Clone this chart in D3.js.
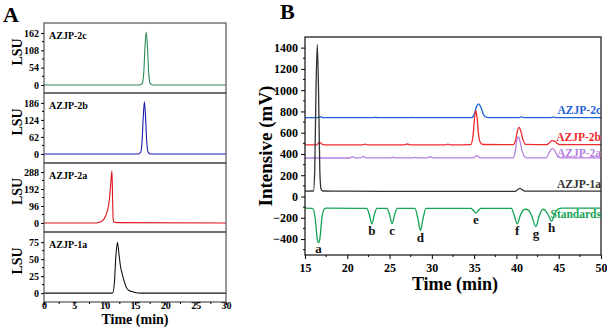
<!DOCTYPE html>
<html><head><meta charset="utf-8">
<script src="https://cdn.jsdelivr.net/npm/d3@7"></script>
<style>
body{margin:0;background:#fff}
svg{display:block;font-family:"Liberation Serif","Times New Roman",serif;font-weight:bold}
</style>
</head><body>
<svg id="c" width="607" height="327"></svg>
<script>
// ---------- Panel A data ----------
const aNames = ["AZJP-2c", "AZJP-2b", "AZJP-2a", "AZJP-1a"];
const aTimeTicks = [0, 5, 10, 15, 20, 25, 30];
const aTicks2c = [0, 54, 108, 162];
const aTicks2b = [0, 62, 124, 186];
const aTicks2a = [0, 96, 192, 288];
const aTicks1a = [0, 25, 50, 75];
const a2c = [[0,0],[15.8,0],[16.2,5],[16.45,40],[16.65,120],[16.85,165],[17.05,120],[17.25,40],[17.5,5],[17.9,0],[30,0]];
const a2b = [[0,0],[15.5,0],[15.9,5],[16.15,40],[16.35,130],[16.55,190],[16.75,130],[16.95,40],[17.2,5],[17.6,0],[30,0]];
const a2a = [[0,0],[8.5,0],[9.2,5],[9.7,15],[10.1,35],[10.5,75],[10.8,140],[11.0,220],[11.2,295],[11.3,150],[11.4,20],[11.5,5],[12,2],[30,0]];
const a1a = [[0,0],[11.3,0],[11.6,15],[11.85,55],[12.1,75],[12.35,58],[12.6,40],[12.9,28],[13.2,18],[13.6,8],[14,4],[14.5,2.5],[15,1],[16,0],[30,0]];

// ---------- Panel B data ----------
const bTimeTicks = [15, 20, 25, 30, 35, 40, 45, 50];
const bIntensityTicks = [-400, -200, 0, 200, 400, 600, 800, 1000, 1200, 1400];
const bNames = ["AZJP-2c", "AZJP-2b", "AZJP-2a", "AZJP-1a", "Standards"];
const b2c = [[15,741],[16.5,741],[16.8,752],[17.1,741],[23,741],[23.3,745],[23.6,741],[27.3,741],[27.6,744],[27.9,741],[34.7,741],[35.0,770],[35.3,850],[35.5,872],[35.8,840],[36.1,770],[36.5,744],[37,741],[40.3,741],[40.6,749],[40.9,741],[44,741],[44.4,746],[44.8,741],[50,741]];
const b2b = [[15,485],[16.4,486],[16.7,512],[17.0,492],[17.4,486],[21.8,486],[22.1,492],[22.4,486],[26.8,486],[27.1,494],[27.4,486],[31.6,486],[31.9,492],[32.2,486],[34.6,488],[34.85,560],[35.05,740],[35.2,810],[35.35,740],[35.5,600],[35.7,512],[36.0,489],[39.6,487],[39.9,530],[40.1,610],[40.3,650],[40.5,620],[40.75,540],[41.1,490],[43.6,487],[43.9,505],[44.2,525],[44.5,520],[44.8,500],[45.2,487],[50,487]];
const b2a = [[15,362],[20.3,362],[20.6,375],[20.9,363],[21.6,363],[21.9,378],[22.2,363],[25.1,363],[25.4,369],[25.7,363],[27.7,363],[28.0,368],[28.3,363],[29.5,363],[29.8,374],[30.1,363],[34.9,363],[35.3,385],[35.7,363],[39.6,363],[39.85,420],[40.05,530],[40.25,560],[40.45,510],[40.7,420],[41.0,372],[41.3,363],[43.5,363],[43.8,400],[44.1,445],[44.3,450],[44.6,420],[44.9,375],[45.3,363],[50,363]];
const b1a = [[15,50],[16.0,52],[16.15,250],[16.3,1000],[16.45,1430],[16.6,1000],[16.75,250],[16.9,70],[17.1,52],[20,50],[30,48],[39.8,48],[40.4,76],[41,50],[50,50]];
const bStd = [[15,-110],[15.9,-112],[16.2,-200],[16.45,-400],[16.6,-432],[16.75,-400],[17.0,-200],[17.3,-115],[17.5,-110],
  [22.3,-112],[22.6,-170],[22.9,-258],[23.2,-170],[23.5,-112],
  [24.7,-112],[25.0,-170],[25.3,-255],[25.6,-170],[25.9,-112],
  [28.0,-112],[28.35,-210],[28.65,-320],[28.95,-210],[29.3,-112],
  [34.6,-112],[34.9,-130],[35.2,-155],[35.5,-130],[35.8,-112],
  [39.4,-112],[39.75,-180],[40.1,-258],[40.45,-180],[40.8,-128],[41.1,-120],
  [41.4,-128],[41.8,-180],[42.3,-282],[42.7,-180],[43.0,-128],[43.2,-120],
  [43.5,-140],[43.8,-180],[44.15,-232],[44.55,-160],[44.9,-118],[45.4,-110],[50,-110]];
const stdLabels = ["a", "b", "c", "d", "e", "f", "g", "h"];
const stdTimes = [16.6, 22.9, 25.3, 28.65, 35.2, 40.1, 42.3, 44.15];
const stdDepths = [-432, -258, -255, -320, -155, -258, -282, -232];

// ---------- drawing ----------
const svg = d3.select("#c");

// Panel A
const aData = [a2c, a2b, a2a, a1a];
const aTicks = [aTicks2c, aTicks2b, aTicks2a, aTicks1a];
const aColors = ["#2e8b57", "#1a1ab4", "#e0141e", "#111111"];
const aDomains = [[-25, 193], [-33, 222], [-51, 339], [-13, 90]];
const aLeft = 44, aRight = 226, aTops = [23, 93, 163, 232], aBottom = 302;
const ax = d3.scaleLinear([0, 30], [aLeft, aRight]);

aData.forEach((data, i) => {
  const top = aTops[i], bottom = i < 3 ? aTops[i + 1] : aBottom;
  const y = d3.scaleLinear(aDomains[i], [bottom, top]);
  const g = svg.append("g");
  const cid = "clipA" + i;
  svg.append("clipPath").attr("id", cid).append("rect")
    .attr("x", aLeft).attr("y", top).attr("width", aRight - aLeft).attr("height", bottom - top);
  g.append("path").datum(data)
    .attr("clip-path", `url(#${cid})`)
    .attr("fill", "none").attr("stroke", aColors[i]).attr("stroke-width", 1.1)
    .attr("d", d3.line().x(d => ax(d[0])).y(d => y(d[1])).curve(d3.curveMonotoneX));
  g.append("rect").attr("x", aLeft).attr("y", top).attr("width", aRight - aLeft).attr("height", bottom - top)
    .attr("fill", "none").attr("stroke", "#555").attr("stroke-width", 1.2);
  // y axis
  const t = aTicks[i];
  const step = t[1] - t[0];
  const minor = t.map(v => v + step / 2).filter(v => y(v) > top + 2);
  const yAx = g.append("g").attr("transform", `translate(${aLeft},0)`)
    .call(d3.axisLeft(y).tickValues(t).tickSize(3).tickPadding(2).tickFormat(d3.format("d")));
  yAx.select(".domain").remove();
  yAx.selectAll("text").attr("font-size", 10).attr("font-weight", "bold").attr("font-family", "Liberation Serif");
  g.selectAll(".mt").data(minor).enter().append("line")
    .attr("x1", aLeft - 2).attr("x2", aLeft).attr("y1", d => y(d)).attr("y2", d => y(d)).attr("stroke", "#000");
  g.append("text").attr("x", 49).attr("y", top + 16).attr("font-size", 10).text(aNames[i]);
  g.append("text").attr("transform", `translate(17,${(top + bottom) / 2 - 6}) rotate(-90)`)
    .attr("text-anchor", "middle").attr("dominant-baseline", "central").attr("font-size", 14).text("LSU");
});
// x axis panel A
const axG = svg.append("g").attr("transform", `translate(0,${aBottom})`)
  .call(d3.axisBottom(ax).tickValues(aTimeTicks).tickSize(3).tickPadding(-3));
axG.select(".domain").remove();
axG.selectAll("text").attr("font-size", 10).attr("font-weight", "bold").attr("font-family", "Liberation Serif");
svg.selectAll(".amx").data(aTimeTicks.slice(0, -1).map(v => v + 2.5)).enter().append("line")
  .attr("x1", d => ax(d)).attr("x2", d => ax(d)).attr("y1", aBottom).attr("y2", aBottom + 2).attr("stroke", "#000");
svg.append("text").attr("x", 135).attr("y", 323.5).attr("text-anchor", "middle").attr("font-size", 14).text("Time (min)");
svg.append("text").attr("x", 3).attr("y", 22).attr("font-size", 22).text("A");

// Panel B
const bL = 305, bR = 601, bT = 37, bB = 255;
const bx = d3.scaleLinear([15, 50], [bL, bR]);
const by = d3.scaleLinear([-550, 1500], [bB, bT]);
const bData = [b2c, b2b, b2a, b1a, bStd];
const bColors = ["#1f63d6", "#ee2a2f", "#b57fe0", "#333333", "#14a355"];
svg.append("clipPath").attr("id", "clipB").append("rect")
  .attr("x", bL).attr("y", bT).attr("width", bR - bL).attr("height", bB - bT);
const bLine = d3.line().x(d => bx(d[0])).y(d => by(d[1])).curve(d3.curveMonotoneX);
bData.forEach((data, i) => {
  svg.append("path").datum(data).attr("clip-path", "url(#clipB)")
    .attr("fill", "none").attr("stroke", bColors[i]).attr("stroke-width", 1.3).attr("d", bLine);
});
// frame
svg.append("rect").attr("x", bL).attr("y", bT).attr("width", bR - bL).attr("height", bB - bT)
  .attr("fill", "none").attr("stroke", "#222").attr("stroke-width", 1.3);
const byAx = svg.append("g").attr("transform", `translate(${bL},0)`)
  .call(d3.axisLeft(by).tickValues(bIntensityTicks).tickSize(4).tickPadding(3).tickFormat(d3.format("d")));
byAx.select(".domain").remove();
byAx.selectAll("text").attr("font-size", 12).attr("font-weight", "bold").attr("font-family", "Liberation Serif");
svg.selectAll(".bmy").data(bIntensityTicks.map(v => v - 100).concat([1500]).filter(v => v > -550 && v < 1500)).enter().append("line")
  .attr("x1", bL - 2).attr("x2", bL).attr("y1", d => by(d)).attr("y2", d => by(d)).attr("stroke", "#000");
const bxAx = svg.append("g").attr("transform", `translate(0,${bB})`)
  .call(d3.axisBottom(bx).tickValues(bTimeTicks).tickSize(4).tickPadding(4));
bxAx.select(".domain").remove();
bxAx.selectAll("text").attr("font-size", 12).attr("font-weight", "bold").attr("font-family", "Liberation Serif");
svg.selectAll(".bmx").data(bTimeTicks.slice(0, -1).map(v => v + 2.5)).enter().append("line")
  .attr("x1", d => bx(d)).attr("x2", d => bx(d)).attr("y1", bB).attr("y2", bB + 2).attr("stroke", "#000");

// series labels
const bLabelBase = [741, 485, 362, 50, -110];
const bLabelOffsetPx = [-4, -4, -1, -3, 10];
bNames.forEach((n, i) => {
  svg.append("text").attr("x", bR).attr("y", by(bLabelBase[i]) + bLabelOffsetPx[i])
    .attr("text-anchor", "end").attr("font-size", 11.5).attr("fill", bColors[i]).text(n);
});
// standards letters
stdLabels.forEach((l, i) => {
  svg.append("text").attr("x", bx(stdTimes[i])).attr("y", by(stdDepths[i]) + 11)
    .attr("text-anchor", "middle").attr("font-size", 13).attr("fill", "#111").text(l);
});
svg.append("text").attr("transform", `translate(265,146) rotate(-90)`)
  .attr("text-anchor", "middle").attr("dominant-baseline", "central").attr("font-size", 19).text("Intensive (mV)");
svg.append("text").attr("x", 455).attr("y", 290).attr("text-anchor", "middle").attr("font-size", 18).text("Time (min)");
svg.append("text").attr("x", 280).attr("y", 19).attr("font-size", 22).text("B");
</script>
</body></html>
